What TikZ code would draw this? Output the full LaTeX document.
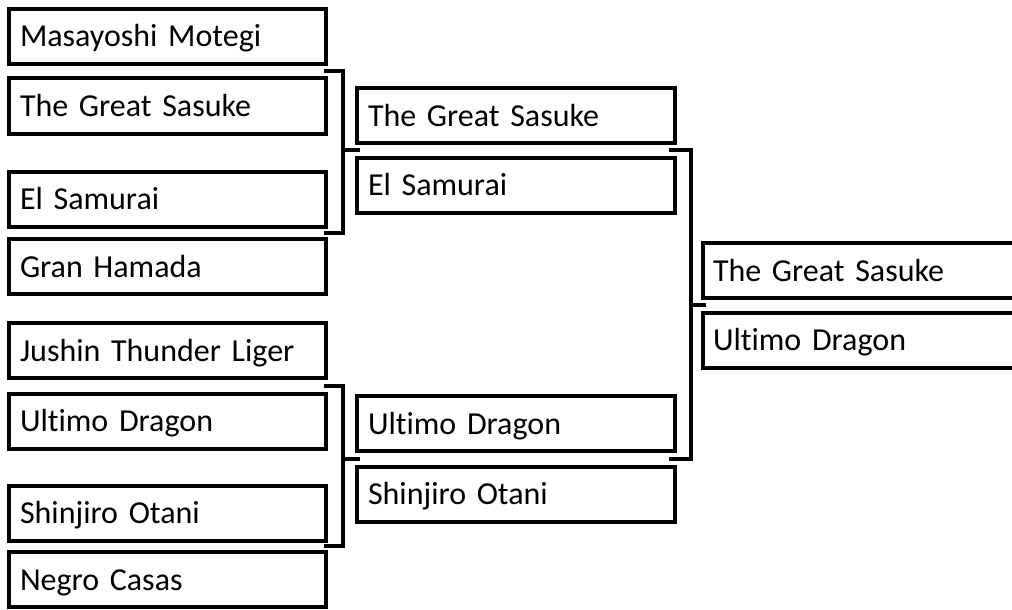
\documentclass[tikz,border=0pt]{standalone}
\usepackage{fontspec}
\setmainfont{Carlito}[WordSpace=0.6,Ligatures=NoCommon]
\usetikzlibrary{calc}
\begin{document}
\begin{tikzpicture}[x=1pt,y=-1pt,
  teambase/.style={draw, line width=4pt, minimum height=55pt, inner ysep=0pt, text height=27pt, text depth=6pt, align=left, font=\fontsize{32}{34}\selectfont},
  teamA/.style={teambase, inner xsep=11pt, text width=295pt},
  teamB/.style={teambase, inner xsep=11pt, text width=296pt},
  teamC/.style={teambase, inner xsep=10pt, text width=317pt},
  conn/.style={draw, line width=4pt, line join=miter}]
\useasboundingbox (0,0) rectangle (1012,610);
\clip (0,0) rectangle (1012,610);
\fill[white] (0,0) rectangle (1012,610);
% round 1
\node[teamA] (m1) at (167.5,36.5) {Masayoshi Motegi};
\node[teamA] (m2) at (167.5,106) {The Great Sasuke};
\node[teamA] (m3) at (167.5,199) {El Samurai};
\node[teamA] (m4) at (167.5,266.5) {Gran Hamada};
\node[teamA] (m5) at (167.5,350.5) {Jushin Thunder Liger};
\node[teamA] (m6) at (167.5,421) {Ultimo Dragon};
\node[teamA] (m7) at (167.5,513) {Shinjiro Otani};
\node[teamA] (m8) at (167.5,579.5) {Negro Casas};
% round 2
\node[teamB] (s1) at (516,115.5) {The Great Sasuke};
\node[teamB] (s2) at (516,185) {El Samurai};
\node[teamB] (s3) at (516,423.5) {Ultimo Dragon};
\node[teamB] (s4) at (516,494) {Shinjiro Otani};
% final
\node[teamC] (f1) at (871.5,270.5) {The Great Sasuke};
\node[teamC] (f2) at (871.5,340) {Ultimo Dragon};
% junctions
\coordinate (j12) at ($(m1.south east)!0.5!(m2.north east)$);
\coordinate (j34) at ($(m3.south east)!0.5!(m4.north east)$);
\coordinate (j56) at ($(m5.south east)!0.5!(m6.north east)$);
\coordinate (j78) at ($(m7.south east)!0.5!(m8.north east)$);
\coordinate (kab) at ($(s1.south west)!0.5!(s2.north west)$);
\coordinate (kcd) at ($(s3.south west)!0.5!(s4.north west)$);
\coordinate (rab) at ($(s1.south east)!0.5!(s2.north east)$);
\coordinate (rcd) at ($(s3.south east)!0.5!(s4.north east)$);
\coordinate (kf) at ($(f1.south west)!0.5!(f2.north west)$);
\coordinate (v1) at ($(j12)+(15,0)$);
\coordinate (v2) at ($(j56)+(15,0)$);
\coordinate (v3) at ($(rab)+(14,0)$);
% connectors round 1 -> 2
\draw[conn] ($(j12)+(-4,0)$) -- (v1) -- (v1 |- j34) -- ($(j34)+(-4,0)$);
\draw[conn] (v1 |- kab) -- ($(kab)+(5,0)$);
\draw[conn] ($(j56)+(-4,0)$) -- (v2) -- (v2 |- j78) -- ($(j78)+(-4,0)$);
\draw[conn] (v2 |- kcd) -- ($(kcd)+(5,0)$);
% connectors round 2 -> final
\draw[conn] ($(rab)+(-8,0)$) -- (v3) -- (v3 |- rcd) -- ($(rcd)+(-8,0)$);
\draw[conn] (v3 |- kf) -- ($(kf)+(5,0)$);
\end{tikzpicture}
\end{document}
